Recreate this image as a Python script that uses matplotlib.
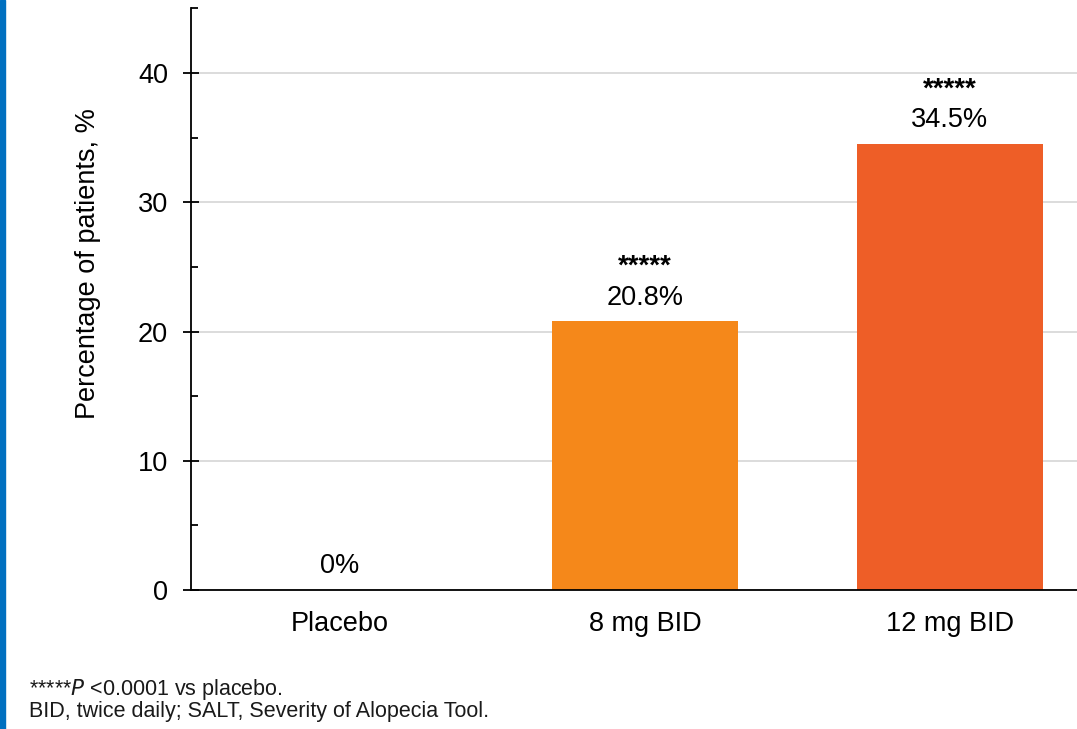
import matplotlib
matplotlib.use("Agg")
import matplotlib.pyplot as plt
from matplotlib.patches import Rectangle
from matplotlib.ticker import MultipleLocator

categories = ["Placebo", "8 mg BID", "12 mg BID"]
values = [0.0, 20.8, 34.5]
value_labels = ["0%", "20.8%", "34.5%"]
sig_labels = ["", "*****", "*****"]
colors = ["#F5881A", "#F5881A", "#EE5E27"]

plt.rcParams["font.family"] = ["Liberation Sans", "DejaVu Sans"]

W, H = 1077, 729
fig = plt.figure(figsize=(W / 100, H / 100), dpi=100)
ax_left, ax_right, ax_bottom, ax_top = 190.7, 1077, 590, 8.4
ax = fig.add_axes([ax_left / W, (H - ax_bottom) / H, (ax_right - ax_left) / W, (ax_bottom - ax_top) / H])

x = list(range(len(categories)))
bars = ax.bar(x, values, width=0.61, color=colors, zorder=3)
ax.set_xlim(-0.49, 2.418)
ax.set_ylim(0, 45)

ax.yaxis.set_major_locator(MultipleLocator(10))
ax.yaxis.set_minor_locator(MultipleLocator(5))
ax.grid(axis="y", which="major", color="#D9D9D9", linewidth=1.3, zorder=0)
ax.tick_params(axis="y", which="major", direction="inout", length=11.5, width=1.3,
               labelsize=19.5, pad=10.5)
ax.tick_params(axis="y", which="minor", direction="in", length=5, width=1.3)
ax.tick_params(axis="x", length=0, labelsize=19.5, pad=15)
ax.set_xticks(x)
ax.set_xticklabels(categories)

for s in ["top", "right"]:
    ax.spines[s].set_visible(False)
for s in ["left", "bottom"]:
    ax.spines[s].set_linewidth(1.3)
    ax.spines[s].set_zorder(4)

for xi, v, lab, sig in zip(x, values, value_labels, sig_labels):
    ax.annotate(lab, (xi, v), xytext=(0, 17), textcoords="offset points",
                ha="center", va="center", fontsize=19.5)
    if sig:
        ax.annotate(sig, (xi, v), xytext=(0, 39.5), textcoords="offset points",
                    ha="center", va="center", fontsize=20, fontweight="semibold")

fig.text(88 / W, 1 - 264 / H, "Percentage of patients, %", rotation=90,
         ha="center", va="center", fontsize=19.5)

fig.text(29 / W, 1 - 690 / H, "*****$\\it{P}$ <0.0001 vs placebo.", ha="left", va="center",
         fontsize=15.5, color="#1a1a1a")
fig.text(29 / W, 1 - 711 / H, "BID, twice daily; SALT, Severity of Alopecia Tool.", ha="left",
         va="center", fontsize=15.5, color="#1a1a1a")

fig.patches.append(Rectangle((0, 0), 5 / W, 1, transform=fig.transFigure,
                             color="#0070C0", zorder=5))

fig.savefig("out.png", dpi=100)
